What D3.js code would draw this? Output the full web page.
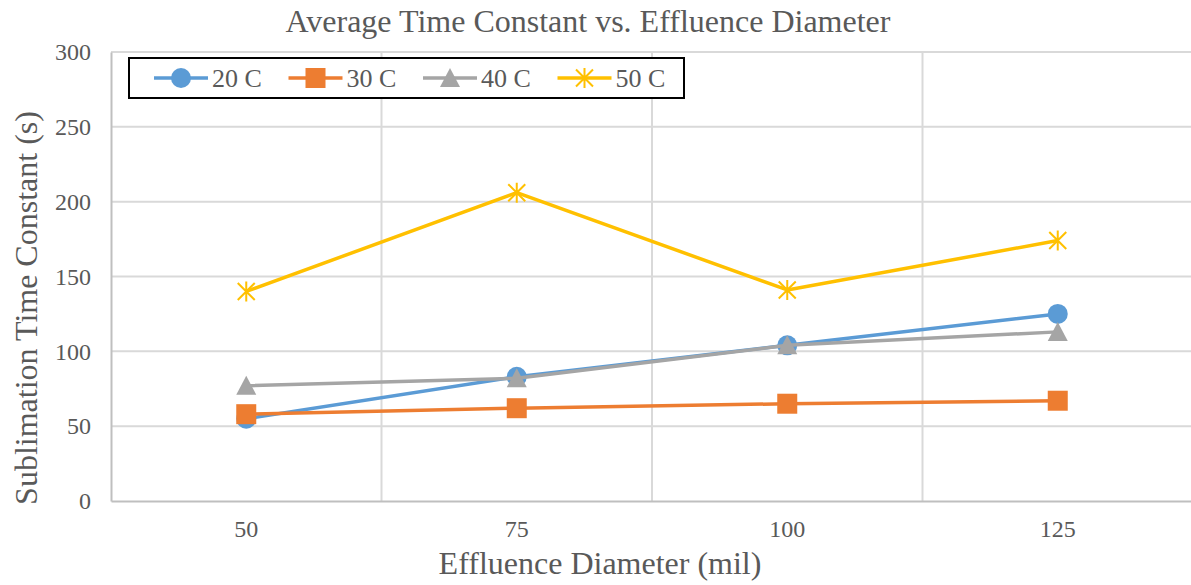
<!DOCTYPE html>
<html>
<head>
<meta charset="utf-8">
<script src="https://cdn.jsdelivr.net/npm/d3@7"></script>
<style>
  html, body { margin: 0; padding: 0; background: #fff; }
  svg { display: block; font-family: "Liberation Serif", "Times New Roman", serif; }
</style>
</head>
<body>
<svg id="chart" width="1191" height="585"></svg>
<script>
// Effluence diameter categories (mil)
const categories = ["50", "75", "100", "125"];

// Average sublimation time constant (s) per temperature
const series20 = [55, 83, 104, 125];
const series30 = [58, 62, 65, 67];
const series40 = [77, 82, 104, 113];
const series50 = [140, 206, 141, 174];

const seriesNames = ["20 C", "30 C", "40 C", "50 C"];
const yTicks = [0, 50, 100, 150, 200, 250, 300];

const series = [
  { name: seriesNames[0], values: series20, color: "#5B9BD5", marker: "circle" },
  { name: seriesNames[1], values: series30, color: "#ED7D31", marker: "square" },
  { name: seriesNames[2], values: series40, color: "#A5A5A5", marker: "triangle" },
  { name: seriesNames[3], values: series50, color: "#FFC000", marker: "star" }
];

const svg = d3.select("#chart");
const plotLeft = 111, plotRight = 1193, plotTop = 52, plotBottom = 501;

const x = d3.scaleBand().domain(categories).range([plotLeft, plotRight]);
const y = d3.scaleLinear().domain([0, 300]).range([plotBottom, plotTop]);
const cx = c => x(c) + x.bandwidth() / 2;

const textColor = "#595959";

// Horizontal gridlines
svg.append("g").selectAll("line").data(yTicks.filter(t => t > 0)).join("line")
  .attr("x1", plotLeft).attr("x2", plotRight)
  .attr("y1", d => y(d)).attr("y2", d => y(d))
  .attr("stroke", "#d9d9d9").attr("stroke-width", 2);

// Vertical gridlines between categories
svg.append("g").selectAll("line").data(categories.slice(1)).join("line")
  .attr("x1", d => x(d)).attr("x2", d => x(d))
  .attr("y1", plotTop).attr("y2", plotBottom)
  .attr("stroke", "#d9d9d9").attr("stroke-width", 2);

// Y axis
const yAxis = svg.append("g").attr("transform", `translate(${plotLeft},0)`)
  .call(d3.axisLeft(y).tickValues(yTicks).tickSize(0).tickPadding(20));
yAxis.select(".domain").attr("stroke", "#bfbfbf").attr("stroke-width", 2);
yAxis.selectAll("text").attr("fill", textColor).style("font-size", "24px")
  .style("font-family", "Liberation Serif, serif");

// X axis
const xAxis = svg.append("g").attr("transform", `translate(0,${plotBottom})`)
  .call(d3.axisBottom(x).tickSize(0).tickPadding(19));
xAxis.select(".domain").attr("stroke", "#bfbfbf").attr("stroke-width", 2);
xAxis.selectAll("text").attr("fill", textColor).style("font-size", "24px")
  .style("font-family", "Liberation Serif, serif");

// Titles
svg.append("text").attr("x", 588).attr("y", 32).attr("text-anchor", "middle")
  .attr("fill", textColor).style("font-size", "32px")
  .text("Average Time Constant vs. Effluence Diameter");
svg.append("text").attr("x", 600).attr("y", 574).attr("text-anchor", "middle")
  .attr("fill", textColor).style("font-size", "32px")
  .text("Effluence Diameter (mil)");
svg.append("text").attr("transform", "translate(37,308) rotate(-90)")
  .attr("text-anchor", "middle").attr("fill", textColor).style("font-size", "32px")
  .text("Sublimation Time Constant (s)");

// Marker drawing
function drawMarker(g, type, color) {
  if (type === "circle") {
    g.append("circle").attr("r", 10).attr("fill", color);
  } else if (type === "square") {
    g.append("rect").attr("x", -10).attr("y", -10).attr("width", 20).attr("height", 20)
      .attr("fill", color);
  } else if (type === "triangle") {
    g.append("path").attr("d", "M0,-10 L10,9 L-10,9 Z").attr("fill", color);
  } else if (type === "star") {
    const r = 10, d = 8.5;
    g.append("path")
      .attr("d", `M0,${-r}L0,${r}M${-d},${-d}L${d},${d}M${-d},${d}L${d},${-d}`)
      .attr("stroke", color).attr("stroke-width", 2).attr("fill", "none");
  }
}

const line = d3.line().x((d, i) => cx(categories[i])).y(d => y(d));

series.forEach(s => {
  svg.append("path").datum(s.values).attr("d", line)
    .attr("fill", "none").attr("stroke", s.color).attr("stroke-width", 3.5)
    .attr("stroke-linejoin", "round");
  svg.append("g").selectAll("g").data(s.values).join("g")
    .attr("transform", (d, i) => `translate(${cx(categories[i])},${y(d)})`)
    .each(function () { drawMarker(d3.select(this), s.marker, s.color); });
});

// Legend
const legend = svg.append("g");
legend.append("rect").attr("x", 129).attr("y", 58).attr("width", 555).attr("height", 40)
  .attr("fill", "#fff").attr("stroke", "#000").attr("stroke-width", 2);
series.forEach((s, i) => {
  const lx = 154 + i * 134.5;
  const ly = 78;
  legend.append("line").attr("x1", lx).attr("x2", lx + 54).attr("y1", ly).attr("y2", ly)
    .attr("stroke", s.color).attr("stroke-width", 3.5);
  const mg = legend.append("g").attr("transform", `translate(${lx + 27},${ly})`);
  drawMarker(mg, s.marker, s.color);
  legend.append("text").attr("x", lx + 58).attr("y", ly + 9).attr("fill", textColor)
    .style("font-size", "26px").text(s.name);
});
</script>
</body>
</html>
